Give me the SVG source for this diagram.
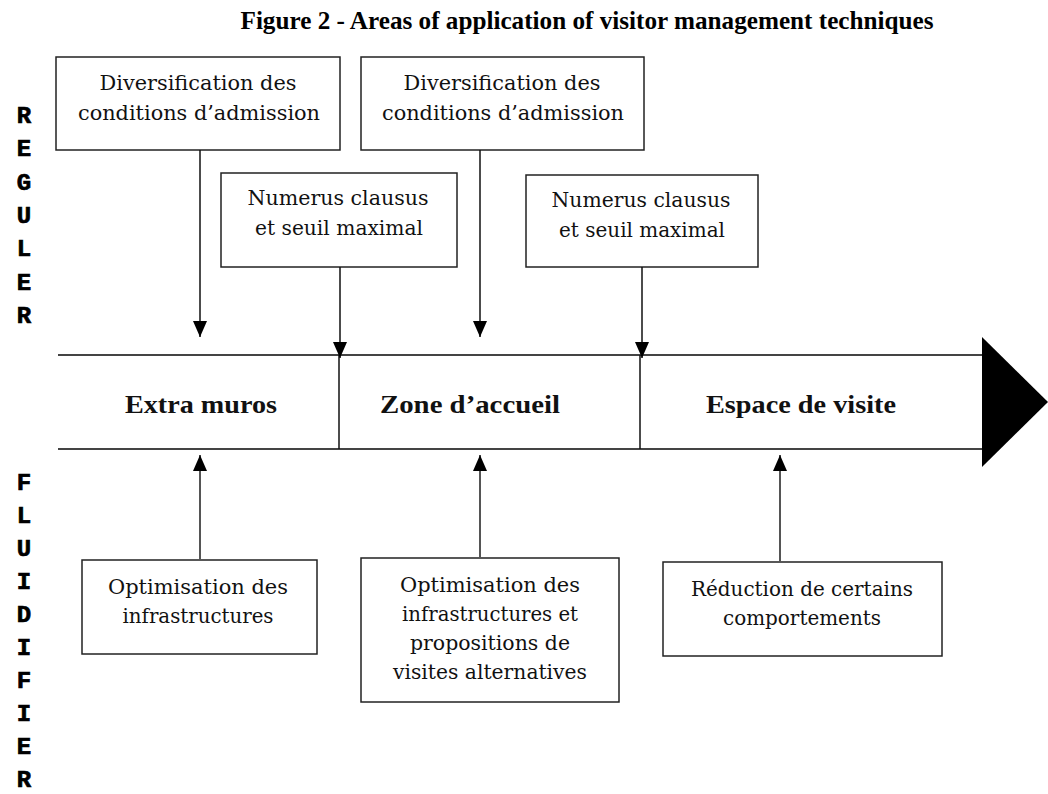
<svg xmlns="http://www.w3.org/2000/svg" width="1048" height="794" viewBox="0 0 1048 794">
<defs>
<style>
.box{fill:#fff;stroke:#222;stroke-width:1.5}
.t{font-family:"DejaVu Serif","Liberation Serif",serif;font-size:19.5px;fill:#111;text-anchor:middle}
.zone{font-family:"Liberation Serif",serif;font-weight:bold;font-size:26px;fill:#111;text-anchor:middle}
.title{font-family:"Liberation Serif",serif;font-weight:bold;font-size:25px;fill:#000;text-anchor:middle}
.side{font-family:"Liberation Mono","DejaVu Sans Mono",monospace;font-weight:bold;font-size:24px;fill:#000;stroke:#000;stroke-width:0.7;text-anchor:middle}
.axis{stroke:#444;stroke-width:2.2;fill:none}
.div{stroke:#111;stroke-width:1.5;fill:none}
.down{stroke:#111;stroke-width:1.5;fill:none;marker-end:url(#ah)}
.up{stroke:#555;stroke-width:2;fill:none;marker-end:url(#ah)}
</style>
<marker id="ah" markerUnits="userSpaceOnUse" markerWidth="16" markerHeight="14" refX="16" refY="7" orient="auto" viewBox="0 0 16 14">
<path d="M0,0 L16,7 L0,14 z" fill="#000"/>
</marker>
</defs>
<rect width="1048" height="794" fill="#fff"/>

<text class="title" x="587" y="29" textLength="693" lengthAdjust="spacingAndGlyphs">Figure 2 - Areas of application of visitor management techniques</text>

<g id="side-reguler">
<text class="side" x="24" y="123">R</text>
<text class="side" x="24" y="156">E</text>
<text class="side" x="24" y="190">G</text>
<text class="side" x="24" y="223">U</text>
<text class="side" x="24" y="256">L</text>
<text class="side" x="24" y="290">E</text>
<text class="side" x="24" y="323">R</text>
</g>
<g id="side-fluidifier">
<text class="side" x="24" y="490">F</text>
<text class="side" x="24" y="523">L</text>
<text class="side" x="24" y="556">U</text>
<text class="side" x="24" y="589">I</text>
<text class="side" x="24" y="622">D</text>
<text class="side" x="24" y="655">I</text>
<text class="side" x="24" y="688">F</text>
<text class="side" x="24" y="721">I</text>
<text class="side" x="24" y="754">E</text>
<text class="side" x="24" y="787">R</text>
</g>

<g id="timeline">
<line class="axis" x1="58" y1="355" x2="983" y2="355"/>
<line class="axis" x1="58" y1="449" x2="983" y2="449"/>
<polygon points="982,337 1048,402 982,467" fill="#000"/>
<line class="div" x1="339" y1="355" x2="339" y2="449"/>
<line class="div" x1="640" y1="355" x2="640" y2="449"/>
</g>
<g id="zone-extra">
<text class="zone" x="201" y="413" textLength="152" lengthAdjust="spacingAndGlyphs">Extra muros</text>
</g>
<g id="zone-accueil">
<text class="zone" x="470" y="413" textLength="180" lengthAdjust="spacingAndGlyphs">Zone d’accueil</text>
</g>
<g id="zone-visite">
<text class="zone" x="801" y="413" textLength="190" lengthAdjust="spacingAndGlyphs">Espace de visite</text>
</g>

<g id="n-divers1">
<rect class="box" x="56" y="57" width="284" height="93"/>
<text class="t" x="198" y="90" textLength="197" lengthAdjust="spacingAndGlyphs">Diversification des</text>
<text class="t" x="199" y="120" textLength="242" lengthAdjust="spacingAndGlyphs">conditions d’admission</text>
</g>
<g id="n-numerus1">
<rect class="box" x="221" y="173" width="236" height="94"/>
<text class="t" x="338" y="205" textLength="181" lengthAdjust="spacingAndGlyphs">Numerus clausus</text>
<text class="t" x="339" y="235" textLength="168" lengthAdjust="spacingAndGlyphs">et seuil maximal</text>
</g>
<g id="n-divers2">
<rect class="box" x="361" y="57" width="283" height="93"/>
<text class="t" x="502" y="90" textLength="197" lengthAdjust="spacingAndGlyphs">Diversification des</text>
<text class="t" x="503" y="120" textLength="242" lengthAdjust="spacingAndGlyphs">conditions d’admission</text>
</g>
<g id="n-numerus2">
<rect class="box" x="526" y="175" width="232" height="92"/>
<text class="t" x="641" y="207" textLength="179" lengthAdjust="spacingAndGlyphs">Numerus clausus</text>
<text class="t" x="642" y="237" textLength="166" lengthAdjust="spacingAndGlyphs">et seuil maximal</text>
</g>
<g id="n-optim1">
<rect class="box" x="82" y="560" width="235" height="94"/>
<text class="t" x="198" y="594" textLength="180" lengthAdjust="spacingAndGlyphs">Optimisation des</text>
<text class="t" x="198" y="623" textLength="151" lengthAdjust="spacingAndGlyphs">infrastructures</text>
</g>
<g id="n-optim2">
<rect class="box" x="361" y="558" width="258" height="144"/>
<text class="t" x="490" y="592" textLength="180" lengthAdjust="spacingAndGlyphs">Optimisation des</text>
<text class="t" x="490" y="621" textLength="176" lengthAdjust="spacingAndGlyphs">infrastructures et</text>
<text class="t" x="490" y="650" textLength="160" lengthAdjust="spacingAndGlyphs">propositions de</text>
<text class="t" x="490" y="679" textLength="194" lengthAdjust="spacingAndGlyphs">visites alternatives</text>
</g>
<g id="n-reduction">
<rect class="box" x="663" y="562" width="279" height="94"/>
<text class="t" x="802" y="596" textLength="222" lengthAdjust="spacingAndGlyphs">Réduction de certains</text>
<text class="t" x="802" y="625" textLength="158" lengthAdjust="spacingAndGlyphs">comportements</text>
</g>

<g id="connectors">
<line class="down" x1="200" y1="150" x2="200" y2="337"/>
<line class="down" x1="340" y1="267" x2="340" y2="358"/>
<line class="down" x1="480" y1="150" x2="480" y2="337"/>
<line class="down" x1="642" y1="267" x2="642" y2="358"/>
<line class="up" x1="200" y1="560" x2="200" y2="455"/>
<line class="up" x1="480" y1="558" x2="480" y2="455"/>
<line class="up" x1="780" y1="562" x2="780" y2="455"/>
</g>
</svg>
